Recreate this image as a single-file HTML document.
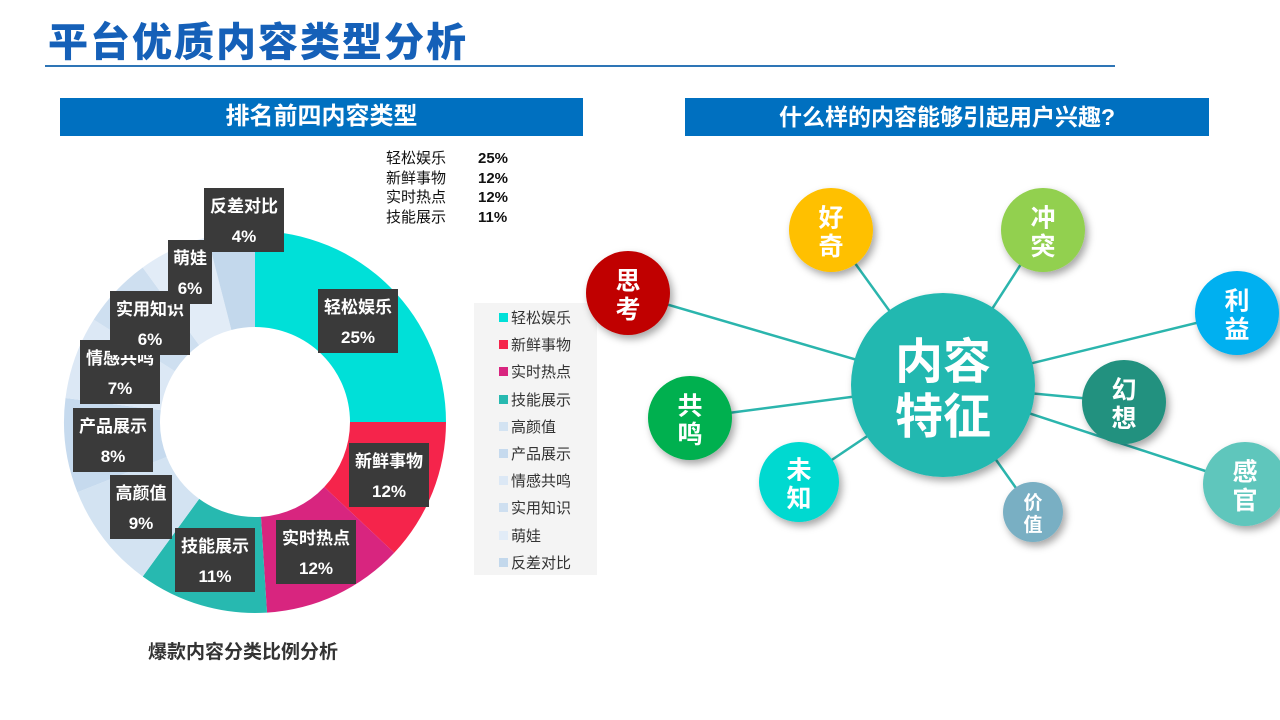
<!DOCTYPE html>
<html><head><meta charset="utf-8">
<style>
body{margin:0;width:1280px;height:720px;background:#fff;font-family:"Liberation Sans","Noto Sans CJK SC",sans-serif;overflow:hidden;position:relative}
.abs{position:absolute}
.bar{position:absolute;background:#0070C0;color:#fff;font-weight:bold;text-align:center;line-height:38px;height:38px}
</style></head><body>
<div class="abs" style="left:48px;top:10px;font-size:40px;font-weight:900;color:#1560B8;letter-spacing:2px">平台优质内容类型分析</div>
<div class="abs" style="left:45px;top:65px;width:1070px;height:2px;background:#2E75B6"></div>
<div class="bar" style="left:60px;top:98px;width:523px;font-size:24px">排名前四内容类型</div>
<div class="bar" style="left:685px;top:98px;width:524px;font-size:23px">什么样的内容能够引起用户兴趣?</div>
<div class="abs" style="left:386px;top:149px;font-size:15px;line-height:19.5px;color:#111">
<div>轻松娱乐<b style="position:absolute;left:92px">25%</b></div>
<div>新鲜事物<b style="position:absolute;left:92px">12%</b></div>
<div>实时热点<b style="position:absolute;left:92px">12%</b></div>
<div>技能展示<b style="position:absolute;left:92px">11%</b></div>
</div>
<svg id="donut" class="abs" style="left:0;top:0" width="640" height="720"></svg>
<div class="abs" id="legend" style="left:474px;top:303px;width:123px;height:272px;background:#f4f4f4;padding-top:4px;box-sizing:border-box"></div>
<div class="abs" style="left:148px;top:637px;font-size:19px;font-weight:bold;color:#333">爆款内容分类比例分析</div>
<svg id="bub" class="abs" style="left:580px;top:150px" width="700" height="420">
<defs><filter id="sh" x="-30%" y="-30%" width="160%" height="160%"><feDropShadow dx="3" dy="4" stdDeviation="4" flood-opacity="0.35"/></filter></defs>
</svg>
<script>
const categories=["轻松娱乐","新鲜事物","实时热点","技能展示","高颜值","产品展示","情感共鸣","实用知识","萌娃","反差对比"];
const values=[25,12,12,11,9,8,7,6,6,4];
const colors=["#00E0D8","#F5244B","#D8257F","#27B9B0","#D3E3F2","#C6DAEE","#DCE8F5","#CEDFF0","#E2ECF7","#C3D8EC"];
// label layout (pixel centers of callout boxes, layout only)
const labelPos=[[358,321],[389,475],[316,552],[215,560],[141,507],[113,440],[120,372],[150,323],[190,272],[244,220]];
const NS="http://www.w3.org/2000/svg";
const svg=document.getElementById('donut');
const cx=255,cy=422,R=191,r=95;
const total=values.reduce((a,b)=>a+b,0);
function pt(a,rad){return [cx+rad*Math.sin(a),cy-rad*Math.cos(a)];}
let acc=0;
values.forEach((v,i)=>{
 const a0=acc/total*2*Math.PI, a1=(acc+v)/total*2*Math.PI; acc+=v;
 const [x0,y0]=pt(a0,R),[x1,y1]=pt(a1,R),[x2,y2]=pt(a1,r),[x3,y3]=pt(a0,r);
 const lg=(a1-a0)>Math.PI?1:0;
 const p=document.createElementNS(NS,'path');
 p.setAttribute('d',`M${x0},${y0}A${R},${R} 0 ${lg} 1 ${x1},${y1}L${x2},${y2}A${r},${r} 0 ${lg} 0 ${x3},${y3}Z`);
 p.setAttribute('fill',colors[i]);
 
 
 svg.appendChild(p);
});
values.forEach((v,i)=>{
 const [lx,ly]=labelPos[i];
 const g=document.createElementNS(NS,'g');
 
 
 const w=categories[i].length*18+8;
 const rc=document.createElementNS(NS,'rect');
 rc.setAttribute('x',lx-w/2);rc.setAttribute('y',ly-32);rc.setAttribute('width',w);rc.setAttribute('height',64);
 rc.setAttribute('fill','#3a3a3a');
 g.appendChild(rc);
 [[categories[i],-8],[v+'%',22]].forEach(([t,dy])=>{
  const tx=document.createElementNS(NS,'text');
  tx.setAttribute('x',lx);tx.setAttribute('y',ly+dy);tx.setAttribute('text-anchor','middle');
  tx.setAttribute('fill','#fff');tx.setAttribute('font-size','17');tx.setAttribute('font-weight','bold');
  tx.textContent=t;g.appendChild(tx);
 });
 svg.appendChild(g);
});
const lg=document.getElementById('legend');
categories.forEach((c,i)=>{
 const d=document.createElement('div');
 
 
 d.style.cssText='height:27.2px;font-size:15px;color:#333;padding-left:25px;position:relative';
 d.innerHTML=`<span style="position:absolute;left:25px;top:6px;width:9px;height:9px;background:${colors[i]}"></span><span style="margin-left:12px">${c}</span>`;
 lg.appendChild(d);
});
const b=document.getElementById('bub');
const ox=580,oy=150;
const center=[943,385,92];
const bubbles=[["思考",628,293,42,"#C00000"],["好奇",831,230,42,"#FFC000"],["冲突",1043,230,42,"#92D050"],["利益",1237,313,42,"#00B0F0"],["幻想",1124,402,42,"#23917F"],["感官",1245,484,42,"#5EC6BC"],["价值",1033,512,30,"#79AFC3"],["未知",799,482,40,"#00D9D0"],["共鸣",690,418,42,"#00B050"]];
bubbles.forEach(bb=>{
 const l=document.createElementNS(NS,'line');
 l.setAttribute('x1',center[0]-ox);l.setAttribute('y1',center[1]-oy);l.setAttribute('x2',bb[1]-ox);l.setAttribute('y2',bb[2]-oy);
 l.setAttribute('stroke','#2BB5AD');l.setAttribute('stroke-width','2.5');
 
 
 b.appendChild(l);
});
function circ(x,y,rr,col,name,label,fs){
 const g=document.createElementNS(NS,'g');
 
 
 const c=document.createElementNS(NS,'circle');
 c.setAttribute('cx',x-ox);c.setAttribute('cy',y-oy);c.setAttribute('r',rr);c.setAttribute('fill',col);c.setAttribute('filter','url(#sh)');
 g.appendChild(c);
 const chars=[label.slice(0,label.length/2),label.slice(label.length/2)];
 chars.forEach((t,k)=>{
  const tx=document.createElementNS(NS,'text');
  tx.setAttribute('x',x-ox);tx.setAttribute('y',y-oy+(k===0?-fs*0.15:fs*1.0));
  tx.setAttribute('text-anchor','middle');tx.setAttribute('fill','#fff');tx.setAttribute('font-size',fs);tx.setAttribute('font-weight','bold');
  tx.textContent=t;g.appendChild(tx);
 });
 b.appendChild(g);
}
bubbles.forEach(bb=>circ(bb[1],bb[2],bb[3],bb[4],'bubble-'+bb[0],bb[0],bb[3]<35?19:25));
circ(center[0],center[1],center[2],"#21B8B0",'center-bubble',"内容特征",48);
</script>
</body></html>
